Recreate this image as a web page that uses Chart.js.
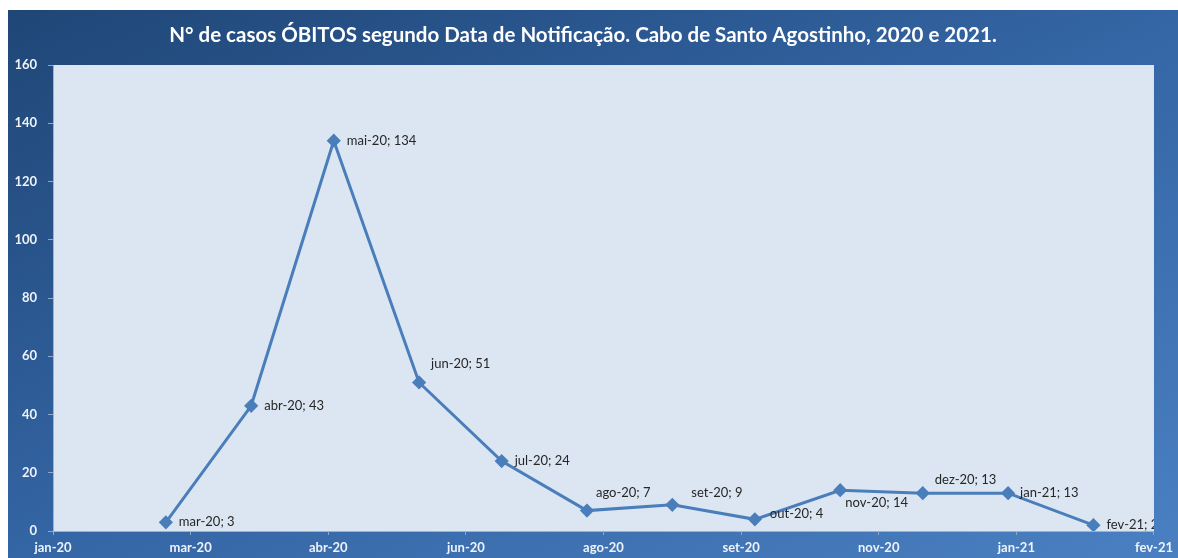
<!DOCTYPE html>
<html>
<head>
<meta charset="utf-8">
<script src="https://cdn.jsdelivr.net/npm/chart.js@4"></script>
<style>
    html, body { margin: 0; padding: 0; background: #ffffff; }
    #wrap { position: absolute; left: 8px; top: 10px; width: 1170px; height: 548px; }
</style>
</head>
<body>
<div id="wrap"><canvas id="chart"></canvas></div>
<script>
const months = ['mar-20', 'abr-20', 'mai-20', 'jun-20', 'jul-20', 'ago-20', 'set-20', 'out-20', 'nov-20', 'dez-20', 'jan-21', 'fev-21'];
const dates = ['2020-03-01', '2020-04-01', '2020-05-01', '2020-06-01', '2020-07-01', '2020-08-01',
               '2020-09-01', '2020-10-01', '2020-11-01', '2020-12-01', '2021-01-01', '2021-02-01'];
const obitos = [3, 43, 134, 51, 24, 7, 9, 4, 14, 13, 13, 2];
const xTickLabels = ['jan-20', 'mar-20', 'abr-20', 'jun-20', 'ago-20', 'set-20', 'nov-20', 'jan-21', 'fev-21'];
const yTickValues = [0, 20, 40, 60, 80, 100, 120, 140, 160];

// excel style date serials: the axis runs from 43850 to 44250 in steps of 50 days
const X_MIN = 43850, X_MAX = 44250, X_STEP = 50;
function toSerial(s) {
    const p = s.split('-').map(Number);
    return (Date.UTC(p[0], p[1] - 1, p[2]) - Date.UTC(1899, 11, 30)) / 86400000;
}

// where each data label sits relative to its point
const labelOffsets = [[13, 0], [13, 0], [13, 0], [12, -19], [13, 0], [9, -18],
                      [19, -12], [15, -6], [5, 13], [12, -13], [12, 0], [13, 0]];

const backgroundPlugin = {
    id: 'background',
    beforeDraw(chart) {
        const { ctx, width, height, chartArea } = chart;
        ctx.save();
        const g = ctx.createLinearGradient(0, 0, 421, 899);
        g.addColorStop(0, '#1f4676');
        g.addColorStop(0.5, '#3465a4');
        g.addColorStop(1, '#4a80c2');
        ctx.fillStyle = g;
        ctx.fillRect(0, 0, width, height);
        ctx.fillStyle = '#dce6f2';
        ctx.fillRect(chartArea.left, chartArea.top, chartArea.right - chartArea.left, chartArea.bottom - chartArea.top);
        ctx.restore();
    }
};

const pointLabelPlugin = {
    id: 'pointLabels',
    afterDatasetsDraw(chart) {
        const { ctx, chartArea } = chart;
        const meta = chart.getDatasetMeta(0);
        ctx.save();
        ctx.beginPath();
        ctx.rect(chartArea.left, chartArea.top, chartArea.right - chartArea.left, chartArea.bottom - chartArea.top);
        ctx.clip();
        ctx.font = '13px Lato';
        ctx.fillStyle = '#262626';
        ctx.textAlign = 'left';
        ctx.textBaseline = 'middle';
        meta.data.forEach((pt, i) => {
            const off = labelOffsets[i];
            ctx.fillText(months[i] + '; ' + obitos[i], pt.x + off[0], pt.y + off[1]);
        });
        ctx.restore();
    }
};

new Chart(document.getElementById('chart'), {
    type: 'line',
    data: {
        datasets: [{
            data: dates.map((d, i) => ({ x: toSerial(d), y: obitos[i] })),
            borderColor: '#4a7ebb',
            backgroundColor: '#4a7ebb',
            borderWidth: 3,
            pointStyle: 'rectRot',
            pointRadius: 5,
            pointHoverRadius: 5,
            tension: 0
        }]
    },
    options: {
        responsive: true,
        maintainAspectRatio: false,
        animation: false,
        layout: { padding: { left: 0, right: 20, top: 0, bottom: 0 } },
        plugins: {
            legend: { display: false },
            tooltip: { enabled: false },
            title: {
                display: true,
                text: 'N° de casos ÓBITOS segundo Data de Notificação. Cabo de Santo Agostinho, 2020 e 2021.',
                color: '#ffffff',
                font: { family: 'Lato', size: 20.5, weight: 'bold', lineHeight: 1.2 },
                padding: { top: 13, bottom: 17.4 }
            }
        },
        scales: {
            x: {
                type: 'linear',
                min: X_MIN,
                max: X_MAX,
                afterBuildTicks: scale => {
                    scale.ticks = xTickLabels.map((_, i) => ({ value: X_MIN + i * X_STEP }));
                },
                afterFit: scale => { scale.height = 27; },
                ticks: {
                    autoSkip: false,
                    maxRotation: 0,
                    padding: 5,
                    color: '#eef3fa',
                    font: { family: 'Lato', size: 13, weight: 'bold' },
                    callback: (value, index) => xTickLabels[index]
                },
                grid: { drawOnChartArea: false, drawTicks: true, tickLength: 4, color: '#8fa8c8' },
                border: { color: '#9db2cd', width: 1 }
            },
            y: {
                min: 0,
                max: 160,
                afterBuildTicks: scale => {
                    scale.ticks = yTickValues.map(v => ({ value: v }));
                },
                afterFit: scale => { scale.width = 45; },
                ticks: {
                    padding: 11,
                    color: '#eef3fa',
                    font: { family: 'Lato', size: 13, weight: 'bold' }
                },
                grid: { drawOnChartArea: false, drawTicks: true, tickLength: 5, color: '#8fa8c8' },
                border: { color: '#9db2cd', width: 1 }
            }
        }
    },
    plugins: [backgroundPlugin, pointLabelPlugin]
});
</script>
</body>
</html>
